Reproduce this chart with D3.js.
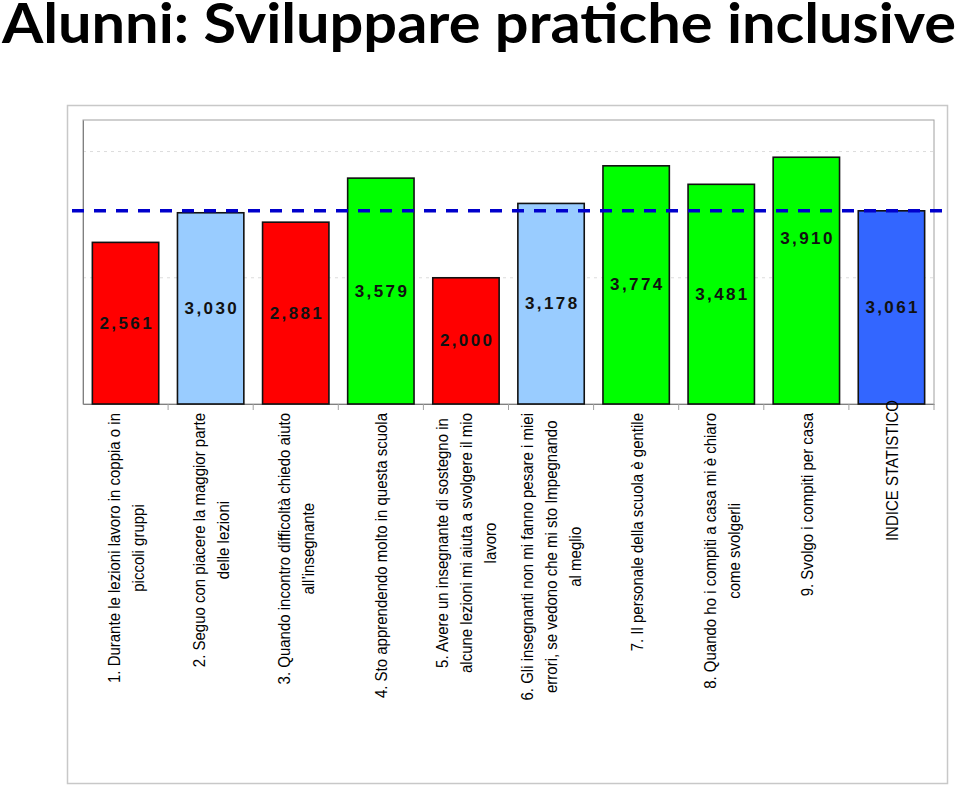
<!DOCTYPE html>
<html>
<head>
<meta charset="utf-8">
<script src="https://cdn.jsdelivr.net/npm/d3@7/dist/d3.min.js"></script>
<style>
  html, body { margin: 0; padding: 0; background: #fff; }
  svg { display: block; }
</style>
</head>
<body>
<script>
// ---------- DATA ----------
const title = "Alunni: Sviluppare pratiche inclusive";
const categories = [
  "1. Durante le lezioni lavoro in coppia o in\npiccoli gruppi",
  "2. Seguo con piacere la maggior parte\ndelle lezioni",
  "3. Quando incontro difficoltà chiedo aiuto\nall’insegnante",
  "4. Sto apprendendo molto in questa scuola",
  "5. Avere un insegnante di sostegno in\nalcune lezioni mi aiuta a svolgere il mio\nlavoro",
  "6. Gli insegnanti non mi fanno pesare i miei\nerrori, se vedono che mi sto Impegnando\nal meglio",
  "7. Il personale della scuola è gentile",
  "8. Quando ho i compiti a casa mi è chiaro\ncome svolgerli",
  "9. Svolgo i compiti per casa",
  "INDICE STATISTICO"
];
const values = [2.561, 3.030, 2.881, 3.579, 2.000, 3.178, 3.774, 3.481, 3.910, 3.061];
const groups = ["low", "mid", "low", "high", "low", "mid", "high", "high", "high", "index"];
const referenceValue = 3.061;   // INDICE STATISTICO
const gridValues = [2, 4];
const yDomain = [0, 4.5];

// ---------- STYLE / LAYOUT ----------
const W = 960, H = 787;
const plot = { left: 83, right: 934, top: 120, bottom: 404 };
const colour = d3.scaleOrdinal()
  .domain(["low", "mid", "high", "index"])
  .range(["#FF0000", "#99CCFF", "#00FF00", "#3366FF"]);

const svg = d3.select("body").append("svg")
  .attr("width", W).attr("height", H);

svg.append("rect").attr("width", W).attr("height", H).attr("fill", "#fff");

// title
svg.append("text")
  .attr("x", 2).attr("y", 43)
  .attr("textLength", 954).attr("lengthAdjust", "spacingAndGlyphs")
  .style("font-family", "Lato, 'Open Sans', sans-serif")
  .style("font-weight", 700)
  .style("font-size", "56px")
  .attr("fill", "#000")
  .text(title);

// outer chart frame
svg.append("rect")
  .attr("x", 67.5).attr("y", 105.5).attr("width", 880).attr("height", 678)
  .attr("fill", "none").attr("stroke", "#c8c8c8").attr("stroke-width", 1.5);

// scales
const x = d3.scaleBand().domain(d3.range(categories.length))
  .range([plot.left, plot.right]).paddingInner(0.22).paddingOuter(0.11);
const y = d3.scaleLinear().domain(yDomain).range([plot.bottom, plot.top]);

// plot area frame
svg.append("rect")
  .attr("x", plot.left).attr("y", plot.top)
  .attr("width", plot.right - plot.left).attr("height", plot.bottom - plot.top)
  .attr("fill", "none").attr("stroke", "#a0a0a0").attr("stroke-width", 1);

// gridlines
svg.append("g").selectAll("line").data(gridValues).join("line")
  .attr("x1", plot.left).attr("x2", plot.right)
  .attr("y1", d => y(d)).attr("y2", d => y(d))
  .attr("stroke", "#dcdcdc").attr("stroke-dasharray", "3,4").attr("stroke-width", 1);

// left axis line
svg.append("g").attr("transform", `translate(${plot.left},0)`)
  .call(d3.axisLeft(y).tickValues([]).tickSizeOuter(0))
  .call(g => g.select(".domain").attr("stroke", "#808080"));

// bottom axis with ticks at category boundaries
const xAxisG = svg.append("g").attr("transform", `translate(0,${plot.bottom})`)
  .call(d3.axisBottom(x).tickValues([]).tickSizeOuter(0));
xAxisG.select(".domain").attr("stroke", "#808080");
const step = x.step();
const boundaries = d3.range(1, categories.length + 1).map(i => plot.left + i * step);
xAxisG.selectAll("line.btick").data(boundaries).join("line")
  .attr("class", "btick")
  .attr("x1", d => d).attr("x2", d => d).attr("y1", 0).attr("y2", 6)
  .attr("stroke", "#a0a0a0");

// bars
svg.append("g").selectAll("rect").data(values).join("rect")
  .attr("x", (d, i) => x(i)).attr("width", x.bandwidth())
  .attr("y", d => y(d)).attr("height", d => y(0) - y(d))
  .attr("fill", (d, i) => colour(groups[i]))
  .attr("stroke", "#111").attr("stroke-width", 1.6);

// reference dashed line
svg.append("line")
  .attr("x1", 72).attr("x2", 942)
  .attr("y1", y(referenceValue)).attr("y2", y(referenceValue))
  .attr("stroke", "#0000CC").attr("stroke-width", 3.5)
  .attr("stroke-dasharray", "12,10");

// data labels
const fmt = v => d3.format(".3f")(v).replace(".", ",");
const labelShift = (i) => (i === 8 ? -42 : 0);
svg.append("g").selectAll("text").data(values).join("text")
  .attr("x", (d, i) => x(i) + x.bandwidth() / 2 + 1.2)
  .attr("y", (d, i) => (y(d) + y(0)) / 2 + labelShift(i))
  .attr("text-anchor", "middle")
  .attr("dominant-baseline", "central")
  .style("font-family", "'Liberation Sans', Arial, sans-serif")
  .style("font-weight", 700)
  .style("font-size", "17px")
  .style("letter-spacing", "2.4px")
  .attr("fill", "#111")
  .text(d => fmt(d));

// category labels (rotated, multi-line)
const labelTop = 413;
const lineGap = 24;
const stretch = 1.15;
const catG = svg.append("g");
categories.forEach((c, i) => {
  const lines = c.split("\n");
  const cx = x(i) + x.bandwidth() / 2;
  const top = labelTop - (i === categories.length - 1 ? 13 : 0);
  const g = catG.append("g")
    .attr("transform", `translate(${cx},${top}) rotate(-90) scale(1,${stretch})`);
  const texts = g.selectAll("text").data(lines).join("text")
    .style("font-family", "'Liberation Sans', Arial, sans-serif")
    .style("font-size", "15px")
    .attr("fill", "#000")
    .attr("text-anchor", "middle")
    .attr("dominant-baseline", "central")
    .text(d => d);
  let maxW = 0;
  texts.each(function () { maxW = Math.max(maxW, this.getComputedTextLength()); });
  const n = lines.length;
  texts
    .attr("x", -maxW / 2)
    .attr("y", (d, j) => (j - (n - 1) / 2) * lineGap / stretch);
});
</script>
</body>
</html>
